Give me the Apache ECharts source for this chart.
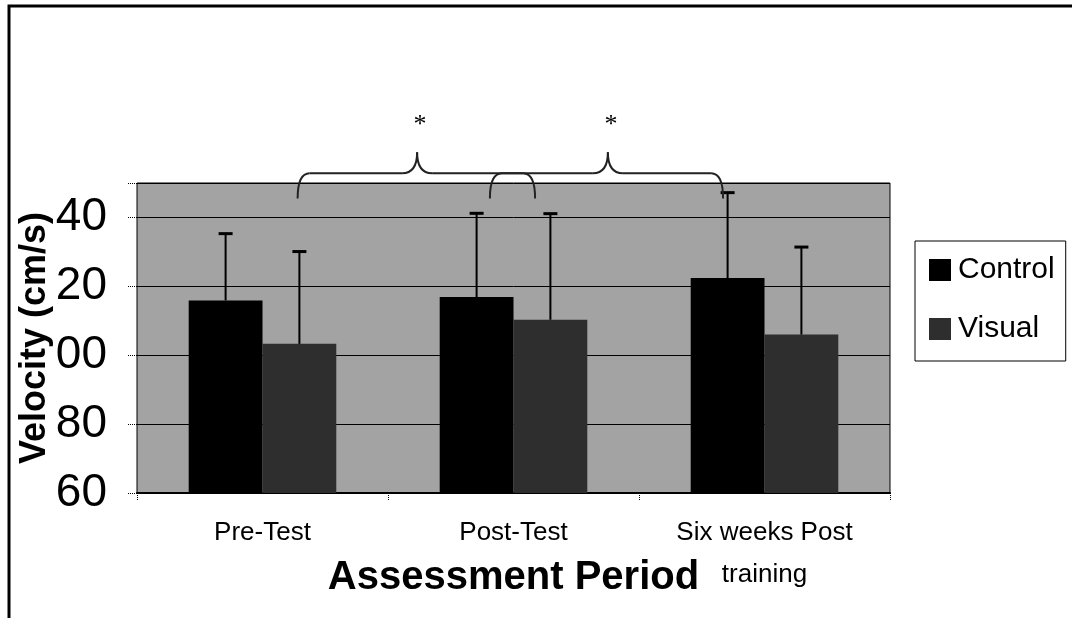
<!DOCTYPE html>
<html>
<head>
<meta charset="utf-8">
<script src="https://cdn.jsdelivr.net/npm/echarts@6/dist/echarts.min.js"></script>
<style>
  html, body { margin: 0; padding: 0; background: #fff; }
  #chart { width: 1072px; height: 618px; }
</style>
</head>
<body>
<div id="chart"></div>
<script>
const categories = ["Pre-Test", "Post-Test", "Six weeks Post\ntraining"];
const controlMean = [115.9, 116.9, 122.4];
const visualMean = [103.3, 110.3, 106.0];
const controlSD = [19.4, 24.3, 24.8];
const visualSD = [26.8, 30.8, 25.4];
const yTickValues = [60, 80, 100, 120, 140];
const yTickLabels = ["60", "80", "00", "20", "40"];

const FONT = "Liberation Sans, Arial, sans-serif";
const barFrac = 0.294;

var chartDom = document.getElementById("chart");
var myChart = echarts.init(chartDom);

// upward-only error bars, shifted onto the grouped bars
function errorSeries(name, means, sds, side) {
  return {
    name: name,
    type: "custom",
    z: 10,
    data: means.map((m, i) => [i, m, m + sds[i]]),
    renderItem: (params, api) => {
      const band = api.size([1, 0])[0];
      const off = (side * band * barFrac) / 2;
      const low = api.coord([api.value(0), api.value(1)]);
      const high = api.coord([api.value(0), api.value(2)]);
      const x = low[0] + off;
      return {
        type: "group",
        children: [
          { type: "line", shape: { x1: x, y1: low[1], x2: x, y2: high[1] }, style: { stroke: "#000", lineWidth: 2 } },
          { type: "line", shape: { x1: x - 7, y1: high[1], x2: x + 7, y2: high[1] }, style: { stroke: "#000", lineWidth: 3 } },
        ],
      };
    },
  };
}

var option = {
  animation: false,
  textStyle: { fontFamily: FONT, color: "#000" },
  legend: {
    data: ["Control", "Visual"],
    orient: "vertical",
    left: 915,
    top: 241,
    icon: "rect",
    itemWidth: 22,
    itemHeight: 22,
    itemGap: 29,
    padding: [14, 11, 17, 14],
    borderColor: "#000",
    borderWidth: 1,
    backgroundColor: "#fff",
    textStyle: { fontSize: 30, fontFamily: FONT, color: "#000", padding: [0, 0, 0, 2] },
  },
  grid: {
    left: 137,
    right: 182,
    top: 183,
    bottom: 125,
    show: true,
    backgroundColor: "#a3a3a3",
    borderColor: "#000",
    borderWidth: 1,
    outerBoundsMode: "none",
  },
  xAxis: {
    type: "category",
    data: categories,
    name: "Assessment Period",
    nameLocation: "middle",
    nameGap: 65,
    nameMoveOverlap: false,
    nameTextStyle: { fontSize: 40, fontWeight: "bold", fontFamily: FONT, color: "#000" },
    axisLine: { lineStyle: { color: "#000", width: 2 } },
    axisTick: { show: true, length: 8, lineStyle: { color: "#000", type: "dotted" } },
    axisLabel: {
      fontSize: 26,
      lineHeight: 42,
      margin: 19,
      color: "#000",
      fontFamily: FONT,
    },
  },
  yAxis: {
    type: "value",
    min: 60,
    max: 150,
    interval: 20,
    name: "Velocity (cm/s)",
    nameLocation: "middle",
    nameRotate: 90,
    nameGap: 84,
    nameMoveOverlap: false,
    nameTextStyle: { fontSize: 36, fontWeight: "bold", fontFamily: FONT, color: "#000" },
    axisLine: { show: false },
    axisTick: { show: true, length: 10, lineStyle: { color: "#000", type: "dotted" } },
    axisLabel: {
      fontSize: 46,
      margin: 30,
      color: "#000",
      fontFamily: FONT,
      formatter: (v) => {
        const i = yTickValues.indexOf(v);
        return i >= 0 ? yTickLabels[i] : "";
      },
    },
    splitLine: { lineStyle: { color: "#000", width: 1 } },
  },
  series: [
    {
      name: "Control",
      type: "bar",
      barWidth: barFrac * 100 + "%",
      barGap: "0%",
      itemStyle: { color: "#000" },
      data: controlMean,
    },
    {
      name: "Visual",
      type: "bar",
      barWidth: barFrac * 100 + "%",
      barGap: "0%",
      itemStyle: { color: "#2e2e2e" },
      data: visualMean,
    },
    errorSeries("Control SD", controlMean, controlSD, -1),
    errorSeries("Visual SD", visualMean, visualSD, 1),
  ],
};

myChart.setOption(option);

// significance braces between groups (positions in category units)
const braces = [
  { from: 0.14, to: 1.086, peak: 0.616 },
  { from: 0.906, to: 1.835, peak: 1.376 },
];
const braceLine = 152.8, braceEnd = 145.5, bracePeak = 158.9, starLevel = 166.7;

const c0 = myChart.convertToPixel({ xAxisIndex: 0 }, 0);
const c1 = myChart.convertToPixel({ xAxisIndex: 0 }, 1);
const px = (u) => c0 + u * (c1 - c0);
const py = (v) => myChart.convertToPixel({ yAxisIndex: 0 }, v);

const graphics = [
  {
    type: "rect",
    silent: true,
    z: 100,
    shape: { x: 9, y: 6, width: 1200, height: 800 },
    style: { fill: "none", stroke: "#000", lineWidth: 3 },
  },
];

const braceStyle = { fill: "none", stroke: "#222", lineWidth: 2 };
braces.forEach((b) => {
  const x1 = px(b.from), x2 = px(b.to), xm = px(b.peak);
  const y0 = py(braceLine), ye = py(braceEnd), yp = py(bracePeak);
  const r = 12, w = 15;
  const curve = (ax, ay, cx, cy, bx, by) => ({
    type: "bezierCurve",
    z: 50,
    silent: true,
    shape: { x1: ax, y1: ay, cpx1: cx, cpy1: cy, x2: bx, y2: by },
    style: braceStyle,
  });
  const line = (ax, ay, bx, by) => ({
    type: "line",
    z: 50,
    silent: true,
    shape: { x1: ax, y1: ay, x2: bx, y2: by },
    style: braceStyle,
  });
  graphics.push(
    curve(x1, ye, x1, y0, x1 + r, y0),
    line(x1 + r, y0, xm - w, y0),
    curve(xm - w, y0, xm, y0, xm, yp),
    curve(xm, yp, xm, y0, xm + w, y0),
    line(xm + w, y0, x2 - r, y0),
    curve(x2 - r, y0, x2, y0, x2, ye)
  );
  graphics.push({
    type: "text",
    z: 50,
    x: xm + 3,
    y: py(starLevel),
    style: {
      text: "*",
      fontSize: 26,
      fontFamily: "Liberation Serif, Times New Roman, serif",
      fill: "#000",
      align: "center",
      verticalAlign: "middle",
    },
  });
});

myChart.setOption({ graphic: graphics });
</script>
</body>
</html>
